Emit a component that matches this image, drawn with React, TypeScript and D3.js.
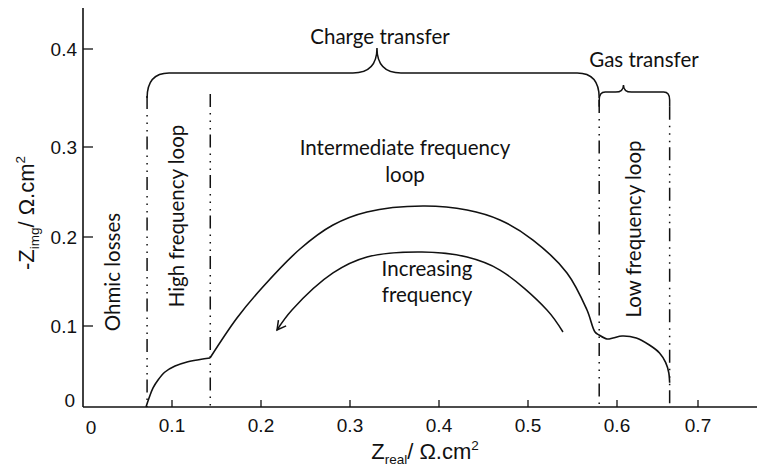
import React from 'react';
import * as d3 from 'd3';

// ---- Axis ticks ----
const xTicks = [0.1, 0.2, 0.3, 0.4, 0.5, 0.6, 0.7];
const xTickLabels = ['0.1', '0.2', '0.3', '0.4', '0.5', '0.6', '0.7'];
const yTicks = [0.1, 0.2, 0.3, 0.4];
const yTickLabels = ['0.1', '0.2', '0.3', '0.4'];

// ---- Impedance curve (Nyquist) ----
const hfLoopX = [0.0708, 0.0742, 0.0787, 0.0843, 0.0921, 0.1034, 0.1169, 0.1315, 0.1427];
const hfLoopY = [0.0, 0.0111, 0.0235, 0.0333, 0.0432, 0.0506, 0.0556, 0.0586, 0.0605];
const ifLfLoopX = [0.1427, 0.173, 0.201, 0.2438, 0.2809, 0.3191, 0.382, 0.4315, 0.4685, 0.5056, 0.5438, 0.5663, 0.5753, 0.5798, 0.5888, 0.5955, 0.6063, 0.6238, 0.64, 0.6525, 0.66, 0.664, 0.665];
const ifLfLoopY = [0.0605, 0.109, 0.1427, 0.1865, 0.2133, 0.2278, 0.2344, 0.23, 0.2189, 0.1966, 0.1596, 0.118, 0.0926, 0.0889, 0.084, 0.0852, 0.0877, 0.0852, 0.0765, 0.0667, 0.055, 0.042, 0.03];

// ---- "Increasing frequency" arrow arc ----
const arrowX = [0.5393, 0.5213, 0.4685, 0.4315, 0.3809, 0.3191, 0.2809, 0.2348, 0.218];
const arrowY = [0.0926, 0.118, 0.1629, 0.1775, 0.1831, 0.1775, 0.1596, 0.118, 0.0951];

// ---- Region separators (dash-dot) ----
const sepX = [0.072, 0.143, 0.58, 0.665];
const sepTop = [0.352, 0.354, 0.348, 0.341];

// ---- Braces ----
const braceNames = ['Charge transfer', 'Gas transfer'];
const braceX0 = [0.072, 0.58];
const braceX1 = [0.58, 0.665];
const braceTipX = [0.3303, 0.608];
const braceTopY = [0.3755, 0.356];
const braceTipY = [0.401, 0.3633];
const braceBottomY = [0.352, 0.341];

const W = 760;
const H = 467;

const x = d3.scaleLinear().domain([0, 0.6, 0.7]).range([83, 617, 698]);
const y = d3.scaleLinear().domain([0, 0.1, 0.2, 0.3, 0.4]).range([407, 326, 237, 147, 49]);

const AX_FONT = '"Liberation Sans", Arial, sans-serif';
const ANN_FONT = 'Lato, "Open Sans", sans-serif';
const ANN_SIZE = 20.5;

function bracePath(i: number, rx: number, ry: number, w: number) {
  const X0 = x(braceX0[i]);
  const X1 = x(braceX1[i]);
  const Xt = x(braceTipX[i]);
  const Yt = y(braceTopY[i]);
  const Yk = y(braceTipY[i]);
  const Yb = y(braceBottomY[i]);
  const p = d3.path();
  p.moveTo(X0, Yb);
  p.lineTo(X0, Yt + ry);
  p.quadraticCurveTo(X0, Yt, X0 + rx, Yt);
  p.lineTo(Xt - w, Yt);
  p.quadraticCurveTo(Xt, Yt, Xt, Yk);
  p.quadraticCurveTo(Xt, Yt, Xt + w, Yt);
  p.lineTo(X1 - rx, Yt);
  p.quadraticCurveTo(X1, Yt, X1, Yt + ry);
  p.lineTo(X1, Yb);
  return p.toString();
}

export default function App() {
  const line = d3
    .line<[number, number]>()
    .x((d) => x(d[0]))
    .y((d) => y(d[1]))
    .curve(d3.curveCatmullRom.alpha(0.5));

  const hf = hfLoopX.map((v, i) => [v, hfLoopY[i]] as [number, number]);
  const ifl = ifLfLoopX.map((v, i) => [v, ifLfLoopY[i]] as [number, number]);
  const arr = arrowX.map((v, i) => [v, arrowY[i]] as [number, number]);

  // arrow head at the end of the arrow arc
  const n = arr.length;
  const tip = [x(arr[n - 1][0]), y(arr[n - 1][1])];
  const prev = [x(arr[n - 2][0]), y(arr[n - 2][1])];
  const ang = Math.atan2(tip[1] - prev[1], tip[0] - prev[0]);
  const hl = 10;
  const ha = 0.5;
  const a1 = [tip[0] - hl * Math.cos(ang - ha), tip[1] - hl * Math.sin(ang - ha)];
  const a2 = [tip[0] - hl * Math.cos(ang + ha), tip[1] - hl * Math.sin(ang + ha)];

  const x0 = x(0);
  const y0 = y(0);

  return (
    <svg
      width={W}
      height={H}
      style={{ position: 'absolute', left: 0, top: 0, background: '#fff' }}
    >
      {/* axes */}
      <line x1={x0} y1={y0} x2={757} y2={y0} stroke="#111" strokeWidth={1.6} />
      <line x1={x0} y1={y0} x2={x0} y2={8} stroke="#111" strokeWidth={1.6} />
      {xTicks.map((t, i) => (
        <g key={'xt' + i}>
          <line x1={x(t)} x2={x(t)} y1={y0} y2={y0 - 7} stroke="#111" strokeWidth={1.3} />
          <text x={x(t)} y={432} textAnchor="middle" fontFamily={AX_FONT} fontSize={19} fill="#111">
            {xTickLabels[i]}
          </text>
        </g>
      ))}
      <text x={x0 + 8} y={434} textAnchor="middle" fontFamily={AX_FONT} fontSize={19} fill="#111">0</text>
      {yTicks.map((t, i) => (
        <g key={'yt' + i}>
          <line x1={x0} x2={x0 + 10} y1={y(t)} y2={y(t)} stroke="#111" strokeWidth={1.3} />
          <text x={77} y={y(t) + 7} textAnchor="end" fontFamily={AX_FONT} fontSize={19} fill="#111">
            {yTickLabels[i]}
          </text>
        </g>
      ))}
      <text x={75} y={y0} textAnchor="end" fontFamily={AX_FONT} fontSize={19} fill="#111">0</text>

      {/* axis titles */}
      <text x={425} y={459} textAnchor="middle" fontFamily={AX_FONT} fontSize={22} fill="#111">
        Z<tspan fontSize={13.5} dy={5}>real</tspan>
        <tspan dy={-5}>/ Ω.cm</tspan>
        <tspan fontSize={13.5} dy={-9}>2</tspan>
      </text>
      <text
        transform={`translate(34,${213}) rotate(-90)`}
        textAnchor="middle"
        fontFamily={AX_FONT}
        fontSize={22}
        fill="#111"
      >
        -Z<tspan fontSize={13.5} dy={5}>img</tspan>
        <tspan dy={-5}>/ Ω.cm</tspan>
        <tspan fontSize={13.5} dy={-9}>2</tspan>
      </text>

      {/* separators */}
      {sepX.map((s, i) => (
        <line
          key={'sep' + i}
          x1={x(s)}
          x2={x(s)}
          y1={y(sepTop[i])}
          y2={y0}
          stroke="#111"
          strokeWidth={1.5}
          strokeDasharray="13,6,1.5,6,1.5,6,1.5,5"
        />
      ))}

      {/* braces */}
      <path d={bracePath(0, 22, 25, 24)} fill="none" stroke="#111" strokeWidth={1.5} />
      <path d={bracePath(1, 6, 8, 8)} fill="none" stroke="#111" strokeWidth={1.5} />
      <text x={380} y={44} textAnchor="middle" fontFamily={ANN_FONT} fontSize={ANN_SIZE} fill="#111">{braceNames[0]}</text>
      <text x={644} y={67} textAnchor="middle" fontFamily={ANN_FONT} fontSize={ANN_SIZE} fill="#111">{braceNames[1]}</text>

      {/* curves */}
      <path d={line(hf) || ''} fill="none" stroke="#111" strokeWidth={1.6} />
      <path d={line(ifl) || ''} fill="none" stroke="#111" strokeWidth={1.6} />
      <path d={line(arr) || ''} fill="none" stroke="#111" strokeWidth={1.5} />
      <polyline
        points={`${a1[0]},${a1[1]} ${tip[0]},${tip[1]} ${a2[0]},${a2[1]}`}
        fill="none"
        stroke="#111"
        strokeWidth={1.5}
      />

      {/* annotations */}
      <text transform="translate(120,272) rotate(-90)" textAnchor="middle" fontFamily={ANN_FONT} fontSize={ANN_SIZE} fill="#111">Ohmic losses</text>
      <text transform="translate(184,216) rotate(-90)" textAnchor="middle" fontFamily={ANN_FONT} fontSize={ANN_SIZE} fill="#111">High frequency loop</text>
      <text transform="translate(641,229) rotate(-90)" textAnchor="middle" fontFamily={ANN_FONT} fontSize={ANN_SIZE} fill="#111">Low frequency loop</text>
      <text x={405} y={155} textAnchor="middle" fontFamily={ANN_FONT} fontSize={ANN_SIZE} fill="#111">Intermediate frequency</text>
      <text x={405} y={182} textAnchor="middle" fontFamily={ANN_FONT} fontSize={ANN_SIZE} fill="#111">loop</text>
      <text x={427} y={276} textAnchor="middle" fontFamily={ANN_FONT} fontSize={ANN_SIZE} fill="#111">Increasing</text>
      <text x={427} y={302} textAnchor="middle" fontFamily={ANN_FONT} fontSize={ANN_SIZE} fill="#111">frequency</text>
    </svg>
  );
}
